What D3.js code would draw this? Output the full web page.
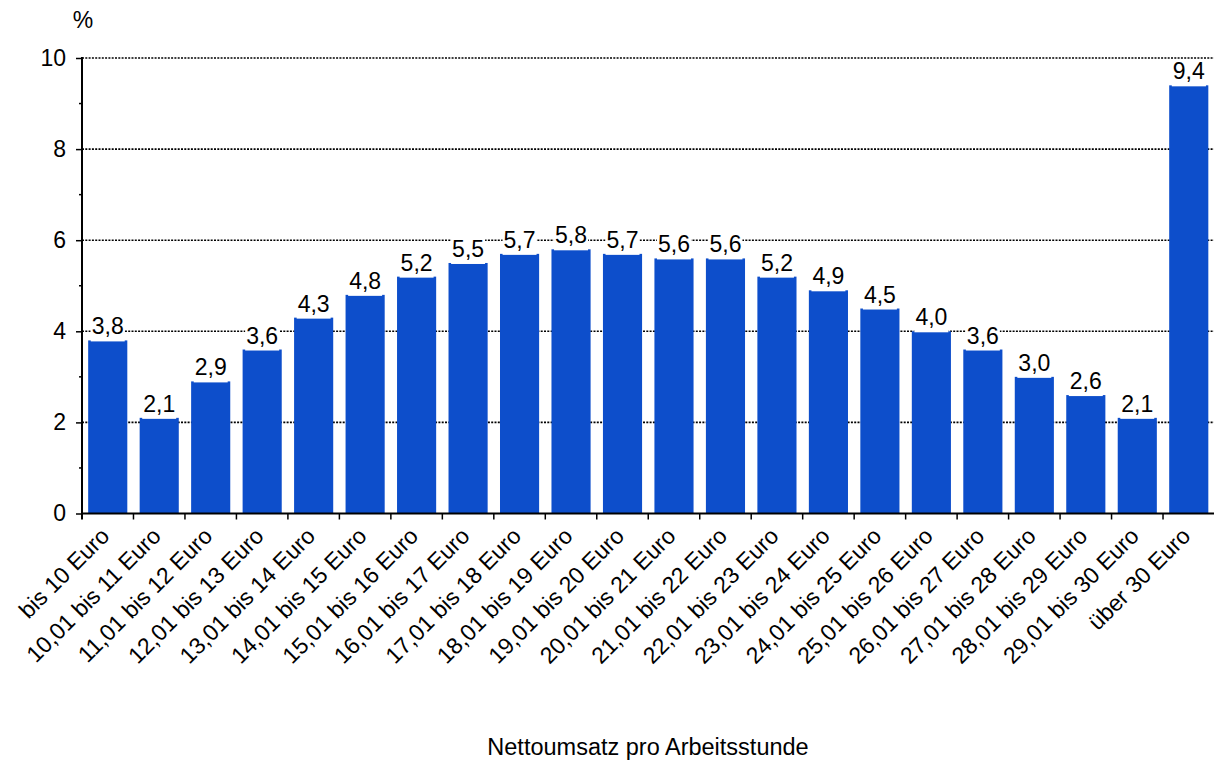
<!DOCTYPE html>
<html><head><meta charset="utf-8">
<script src="https://cdn.jsdelivr.net/npm/d3@7"></script>
<style>body{margin:0;background:#fff}svg{display:block}text{font-family:"Liberation Sans",Arial,sans-serif;fill:#000}</style>
</head><body>
<script>
const categories = ["bis 10 Euro","10,01 bis 11 Euro","11,01 bis 12 Euro","12,01 bis 13 Euro","13,01 bis 14 Euro","14,01 bis 15 Euro","15,01 bis 16 Euro","16,01 bis 17 Euro","17,01 bis 18 Euro","18,01 bis 19 Euro","19,01 bis 20 Euro","20,01 bis 21 Euro","21,01 bis 22 Euro","22,01 bis 23 Euro","23,01 bis 24 Euro","24,01 bis 25 Euro","25,01 bis 26 Euro","26,01 bis 27 Euro","27,01 bis 28 Euro","28,01 bis 29 Euro","29,01 bis 30 Euro","über 30 Euro"];
const values = [3.8,2.1,2.9,3.6,4.3,4.8,5.2,5.5,5.7,5.8,5.7,5.6,5.6,5.2,4.9,4.5,4.0,3.6,3.0,2.6,2.1,9.4];
const yTicks = [0,2,4,6,8,10];
const yMinorTicks = [1,3,5,7,9];
const yUnit = "%";
const xTitle = "Nettoumsatz pro Arbeitsstunde";

const W=1214,H=762;
const mL=82,mR=1214.5,mT=58,mB=513.5;
const FS=23;
const svg=d3.select("body").append("svg").attr("width",W).attr("height",H);
const x=d3.scaleBand().domain(categories).range([mL,mR]).paddingInner(0.24).paddingOuter(0.12);
const xb=d3.scaleBand().domain(categories).range([mL,mR]);
const y=d3.scaleLinear().domain([0,10]).range([mB,mT]);
const fmt=v=>d3.format(".1f")(v).replace(".",",");

// gridlines
svg.append("g").selectAll("line").data(yTicks.filter(d=>d>0)).join("line")
 .attr("x1",mL).attr("x2",mR).attr("y1",d=>y(d)).attr("y2",d=>y(d))
 .attr("stroke","#000").attr("stroke-width",1.6).attr("stroke-dasharray","2,1.3");

// bars
svg.append("g").selectAll("rect").data(values).join("rect")
 .attr("x",(d,i)=>x(categories[i])).attr("width",x.bandwidth())
 .attr("y",d=>y(d)).attr("height",d=>mB-y(d)).attr("fill","#0d4ecb");

// value labels
const vl=svg.append("g").selectAll("g").data(values).join("g")
 .attr("transform",(d,i)=>`translate(${x(categories[i])+x.bandwidth()/2},${y(d)-6})`);
vl.append("text").attr("text-anchor","middle").attr("font-size",FS).text(d=>fmt(d))
 .each(function(){const b=this.getBBox();d3.select(this.parentNode).insert("rect","text")
   .attr("x",b.x-1).attr("y",b.y+2).attr("width",b.width+2).attr("height",7-(b.y+2)).attr("fill","#fff");});

// y axis
const ya=svg.append("g").attr("transform",`translate(${mL},0)`)
 .call(d3.axisLeft(y).tickValues(yTicks).tickFormat(d3.format("d")).tickSize(6).tickPadding(10));
ya.select(".domain").remove();
ya.selectAll("text").attr("font-size",FS).attr("font-family","Liberation Sans, Arial, sans-serif").attr("fill","#000");
ya.selectAll("line").attr("stroke-width",1.5);
svg.append("g").selectAll("line").data(yMinorTicks).join("line")
 .attr("x1",mL-3).attr("x2",mL).attr("y1",d=>y(d)).attr("y2",d=>y(d)).attr("stroke","#000").attr("stroke-width",1.5);
svg.append("line").attr("x1",mL).attr("x2",mL).attr("y1",mT-1).attr("y2",mB+6).attr("stroke","#000").attr("stroke-width",2);

// x axis
svg.append("line").attr("x1",mL).attr("x2",mR).attr("y1",mB).attr("y2",mB).attr("stroke","#000").attr("stroke-width",2);
svg.append("g").selectAll("line").data(categories.slice(1)).join("line")
 .attr("x1",d=>xb(d)).attr("x2",d=>xb(d)).attr("y1",mB).attr("y2",mB+6).attr("stroke","#000").attr("stroke-width",1.5);

svg.append("g").selectAll("text").data(categories).join("text")
 .attr("transform",d=>`translate(${xb(d)+xb.bandwidth()/2+3},${mB+24}) rotate(-45)`)
 .attr("text-anchor","end").attr("font-size",FS).text(d=>d);

svg.append("text").attr("x",83).attr("y",28).attr("font-size",FS).attr("text-anchor","middle").text(yUnit);
svg.append("text").attr("x",648).attr("y",755).attr("font-size",23.5).attr("text-anchor","middle").text(xTitle);
</script>
</body></html>
